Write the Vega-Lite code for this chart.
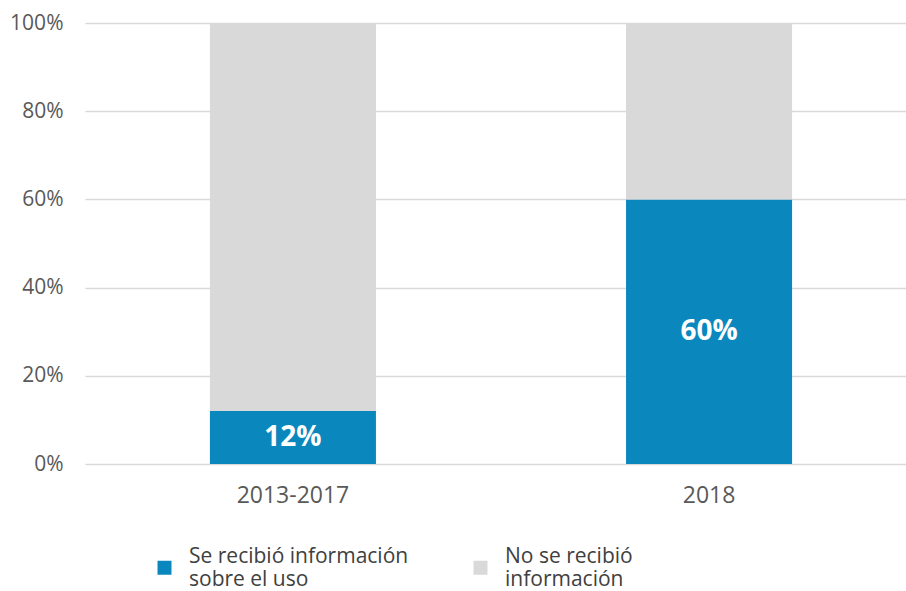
{
  "$schema": "https://vega.github.io/schema/vega-lite/v6.json",
  "width": 821,
  "height": 441,
  "autosize": {"type": "none"},
  "padding": {"left": 85, "top": 23, "right": 0, "bottom": 127},
  "background": "white",
  "config": {
    "view": {"stroke": null},
    "font": "Open Sans"
  },
  "data": {
    "values": [
      {"periodo": "2013-2017", "categoria": "Se recibió información sobre el uso", "orden": 1, "valor": 0.12},
      {"periodo": "2013-2017", "categoria": "No se recibió información", "orden": 2, "valor": 0.88},
      {"periodo": "2018", "categoria": "Se recibió información sobre el uso", "orden": 1, "valor": 0.60},
      {"periodo": "2018", "categoria": "No se recibió información", "orden": 2, "valor": 0.40}
    ]
  },
  "encoding": {
    "x": {
      "field": "periodo",
      "type": "nominal",
      "sort": ["2013-2017", "2018"],
      "scale": {"paddingInner": 0.601, "paddingOuter": 0.287, "align": 0.523},
      "axis": {
        "title": null,
        "labelAngle": 0,
        "domain": false,
        "ticks": false,
        "labelFontSize": 23,
        "labelColor": "#595959",
        "labelPadding": 20,
        "labelFont": "Open Sans"
      }
    }
  },
  "layer": [
    {
      "mark": {"type": "bar"},
      "encoding": {
        "y": {
          "field": "valor",
          "type": "quantitative",
          "stack": "zero",
          "scale": {"domain": [0, 1], "nice": false},
          "axis": {
            "title": null,
            "format": ".0%",
            "values": [0, 0.2, 0.4, 0.6, 0.8, 1],
            "domain": false,
            "ticks": false,
            "grid": true,
            "gridColor": "#D9D9D9",
            "gridWidth": 1.5,
            "labelFontSize": 21,
            "labelColor": "#595959",
            "labelPadding": 22,
            "labelFont": "Open Sans"
          }
        },
        "order": {"field": "orden", "type": "quantitative"},
        "color": {
          "field": "categoria",
          "type": "nominal",
          "sort": ["Se recibió información sobre el uso", "No se recibió información"],
          "scale": {
            "domain": ["Se recibió información sobre el uso", "No se recibió información"],
            "range": ["#0A88BE", "#D9D9D9"]
          },
          "legend": {
            "title": null,
            "orient": "none",
            "legendX": 69,
            "legendY": 534,
            "direction": "horizontal",
            "columns": 2,
            "columnPadding": 61,
            "padding": 0,
            "symbolType": "square",
            "symbolSize": 196,
            "symbolStrokeWidth": 0,
            "labelFontSize": 21,
            "labelFont": "Open Sans",
            "labelColor": "#404040",
            "labelOffset": 14,
            "labelLimit": 400,
            "labelLineHeight": 25,
            "labelBaseline": "line-bottom",
            "labelExpr": "datum.label == 'Se recibió información sobre el uso' ? ['Se recibió información', 'sobre el uso'] : ['No se recibió', 'información']"
          }
        }
      }
    },
    {
      "transform": [{"filter": "datum.categoria == 'Se recibió información sobre el uso'"}],
      "mark": {"type": "text", "color": "white", "fontWeight": "bold", "fontSize": 28, "font": "Open Sans", "baseline": "middle"},
      "encoding": {
        "y": {"field": "valor", "type": "quantitative", "stack": null, "scale": {"domain": [0, 2], "nice": false}, "axis": null},
        "text": {"field": "valor", "type": "quantitative", "format": ".0%"}
      }
    }
  ],
  "resolve": {"scale": {"y": "independent"}}
}
